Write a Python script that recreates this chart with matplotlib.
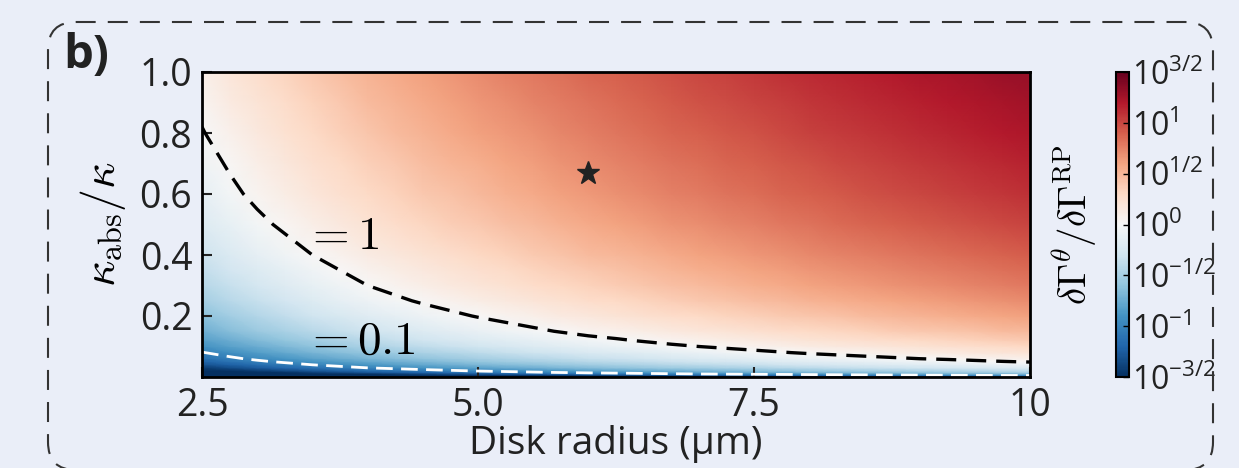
import numpy as np
import matplotlib
matplotlib.use("Agg")
from matplotlib import pyplot as plt
from matplotlib.patches import FancyBboxPatch

plt.rcParams['font.family'] = ['Open Sans', 'DejaVu Sans']
plt.rcParams['mathtext.fontset'] = 'cm'

# kappa_abs/kappa rows and log10(dGamma^theta/dGamma^RP) along the left edge (r = 2.5 um)
kappa = [0.0, 0.005, 0.01, 0.015, 0.02, 0.03, 0.04, 0.05, 0.06, 0.08, 0.1, 0.12,
         0.15, 0.2, 0.25, 0.3, 0.35, 0.4, 0.5, 0.6, 0.7, 0.8, 0.9, 1.0]
kappa_profile = [-2.90, -2.21, -1.91, -1.73, -1.61, -1.43, -1.31, -1.21, -1.13, -1.01, -0.91, -0.83,
                 -0.73, -0.61, -0.51, -0.43, -0.37, -0.31, -0.21, -0.13, -0.07, -0.01, 0.04, 0.09]
# disk radius (um) and how much log10 ratio grows relative to r = 2.5 um
radius = [2.5, 2.75, 3.0, 3.25, 3.5, 3.75, 4.0, 4.25, 4.5, 4.75, 5.0, 5.25, 5.5, 5.75, 6.0, 6.25,
          6.5, 6.75, 7.0, 7.25, 7.5, 7.75, 8.0, 8.25, 8.5, 8.75, 9.0, 9.25, 9.5, 9.75, 10.0]
radius_gain = [0.00, 0.09, 0.17, 0.24, 0.31, 0.37, 0.43, 0.48, 0.53, 0.575, 0.62, 0.66, 0.70, 0.74,
               0.78, 0.81, 0.845, 0.88, 0.91, 0.94, 0.97, 1.00, 1.03, 1.055, 1.08, 1.105, 1.13,
               1.15, 1.175, 1.20, 1.22]
star = (6.0, 0.67)
cbar_ticks = [-1.5, -1.0, -0.5, 0.0, 0.5, 1.0, 1.5]
cbar_labels = ['-3/2', '-1', '-1/2', '0', '1/2', '1', '3/2']

bg = '#eaeef8'
fig = plt.figure(figsize=(12.39, 4.68), dpi=100, facecolor=bg)
ax = fig.add_axes([202/1239, 1-377/468, 828/1239, 305/468])
cax = fig.add_axes([1116/1239, 1-377/468, 13/1239, 305/468])

R, K = np.meshgrid(radius, kappa)
Z = np.array(kappa_profile)[:, None] + np.array(radius_gain)[None, :]
mesh = ax.pcolormesh(R, K, Z, shading='gouraud', cmap='RdBu_r', vmin=-1.5, vmax=1.5)
ax.contour(R, K, Z, levels=[-1.0, 0.0], colors=['white', 'black'],
           linewidths=[2.0, 2.4], linestyles=[(0, (6, 3)), (0, (6, 3))])
ax.plot(star[0], star[1], marker='*', ms=17, color='#222222', mec='#222222')

ax.text(3.42, 0.42, r'$=1$', fontsize=34, ha='left', va='baseline')
ax.text(3.42, 0.075, r'$=0.1$', fontsize=34, ha='left', va='baseline')

ax.set_xlim(2.5, 10)
ax.set_ylim(0, 1)
ax.set_xticks([2.5, 5.0, 7.5, 10])
ax.set_xticklabels(['2.5', '5.0', '7.5', '10'])
ax.set_yticks([0.2, 0.4, 0.6, 0.8, 1.0])
ax.set_yticklabels(['0.2', '0.4', '0.6', '0.8', '1.0'])
ax.tick_params(direction='in', length=7, width=1.5, labelsize=27, pad=7, color='#222222',
               labelcolor='#222222')
for s in ax.spines.values():
    s.set_linewidth(2)
ax.set_xlabel('Disk radius (μm)', fontsize=28, labelpad=0, color='#222222')
ax.set_ylabel(r'$\kappa_{\rm abs}/\kappa$', fontsize=33, labelpad=8)

cb = fig.colorbar(mesh, cax=cax)
cb.set_ticks(cbar_ticks)
cb.set_ticklabels([r'$\mathregular{10^{%s}}$' % t for t in cbar_labels])
cb.ax.tick_params(direction='in', length=4, width=1, labelsize=23, pad=2, labelcolor='#222222')
cb.outline.set_linewidth(1.5)
cb.ax.yaxis.set_label_position('left')
cb.set_label(r'$\delta\Gamma^{\theta}/\delta\Gamma^{\rm RP}$', fontsize=28, labelpad=12)

fig.text(63/1239, 1-32/468, 'b)', fontsize=34, fontweight='bold', ha='left', va='top', color='#222222')

box = FancyBboxPatch((48, -2), 1165, 468-22+2, boxstyle='round,pad=0,rounding_size=28',
                     transform=None, fill=False, edgecolor='#333333', linewidth=1.5,
                     linestyle=(0, (9.6, 5.8)), clip_on=False)
fig.add_artist(box)

fig.savefig('out.png', dpi=100, facecolor=bg)
